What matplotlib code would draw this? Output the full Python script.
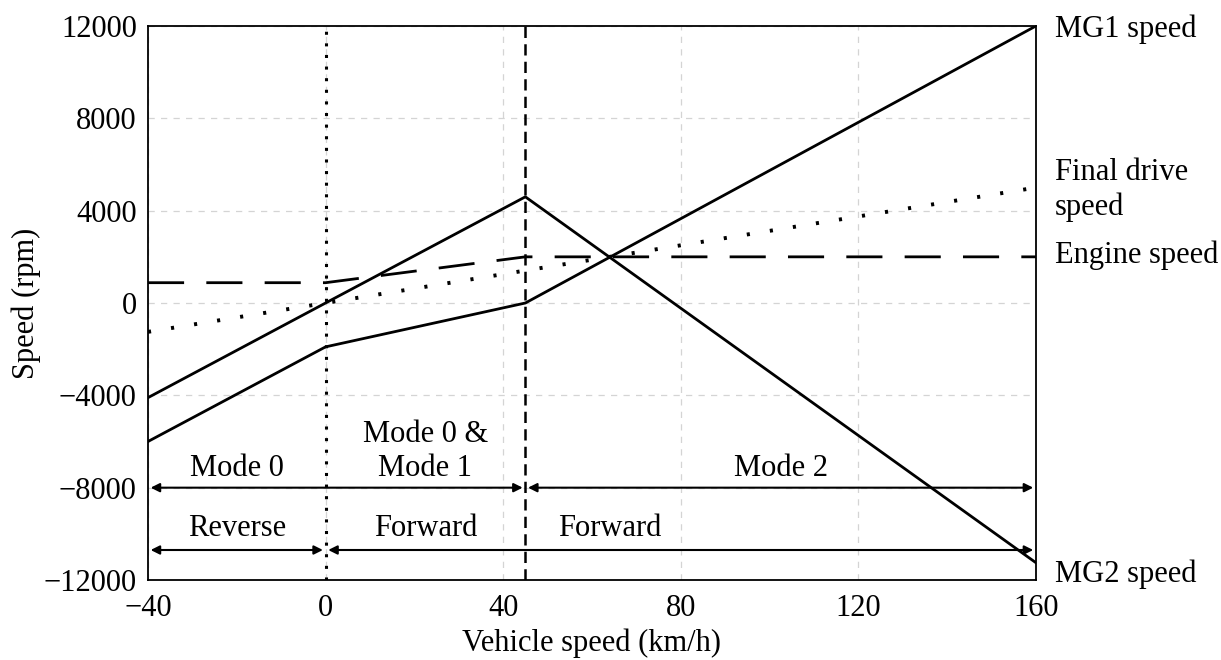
import matplotlib
matplotlib.use("Agg")
import matplotlib.pyplot as plt

# vehicle speed break points (km/h) and the rpm at each
vehicle_pts = [-40, 0, 45, 160]
mg2_rpm = [-4100, 0, 4600, -11250]
mg1_rpm = [-6000, -1900, 0, 12000]
engine_rpm = [880, 880, 2000, 2000]
final_pts = [-40, 160]
final_rpm = [-1250, 5000]

# operating regions
mode_bounds = [(-40, 45), (45, 160)]
mode_labels = ["Mode 0", "Mode 0 &\nMode 1", "Mode 2"]
mode_label_x = [-20, 22.5, 102.5]
dir_bounds = [(-40, 0), (0, 160)]
dir_labels = ["Reverse", "Forward", "Forward"]
dir_label_x = [-20, 22.5, 64]

right_labels = ["MG1 speed", "Final drive\nspeed", "Engine speed", "MG2 speed"]
right_label_y = [11850, 4900, 2050, -11750]

xticks = [-40, 0, 40, 80, 120, 160]
yticks = [-12000, -8000, -4000, 0, 4000, 8000, 12000]

FS = 22

plt.rcParams['font.family'] = ['Liberation Serif', 'DejaVu Serif']
plt.rcParams['axes.unicode_minus'] = True

fig = plt.figure(figsize=(12.21, 6.6), dpi=100)
ax = fig.add_axes([0.1212, 0.1212, 0.7272, 0.8394])

ax.set_xlim(-40, 160)
ax.set_ylim(-12000, 12000)
ax.set_xticks(xticks)
ax.set_yticks(yticks)
ax.tick_params(length=0, labelsize=FS, pad=10)
ax.tick_params(axis='y', pad=8)
ax.grid(True, color='#d4d4d4', linestyle=(0, (5, 5)), linewidth=0.9)
ax.set_axisbelow(True)
for sp in ax.spines.values():
    sp.set_linewidth(1.3)

# speed curves
ax.plot(vehicle_pts, mg2_rpm, color='black', lw=2)
ax.plot(vehicle_pts, mg1_rpm, color='black', lw=2)
ax.plot(vehicle_pts, engine_rpm, color='black', lw=2, linestyle=(0, (13, 8)))
ax.plot(final_pts, final_rpm, color='black', lw=2.8, linestyle=(0, (0.8, 5.2)))

# mode boundaries
ax.axvline(0, color='black', lw=2.2, linestyle=(0, (1, 2.8)))
ax.axvline(45, color='black', lw=1.8, linestyle=(0, (4.5, 2.5)))

arrow_style = dict(arrowstyle='<|-|>', color='black', lw=1.5,
                   shrinkA=0, shrinkB=0, mutation_scale=13)
for x0, x1 in mode_bounds:
    ax.annotate('', xy=(x1 - 0.6, -8000), xytext=(x0 + 0.6, -8000), arrowprops=arrow_style)
for x0, x1 in dir_bounds:
    ax.annotate('', xy=(x1 - 0.6, -10700), xytext=(x0 + 0.6, -10700), arrowprops=arrow_style)

for lab, x in zip(mode_labels, mode_label_x):
    ax.text(x, -7800, lab, ha='center', va='bottom', fontsize=FS, linespacing=1.25)
for lab, x in zip(dir_labels, dir_label_x):
    ax.text(x, -10400, lab, ha='center', va='bottom', fontsize=FS)

trans = ax.get_yaxis_transform()
for lab, y in zip(right_labels, right_label_y):
    ax.text(1.021, y, lab, transform=trans, ha='left', va='center', fontsize=FS,
            linespacing=1.25)

ax.set_xlabel("Vehicle speed (km/h)", fontsize=FS, labelpad=4)
ax.set_ylabel("Speed (rpm)", fontsize=FS, labelpad=2)

fig.savefig("out.png", dpi=100)
